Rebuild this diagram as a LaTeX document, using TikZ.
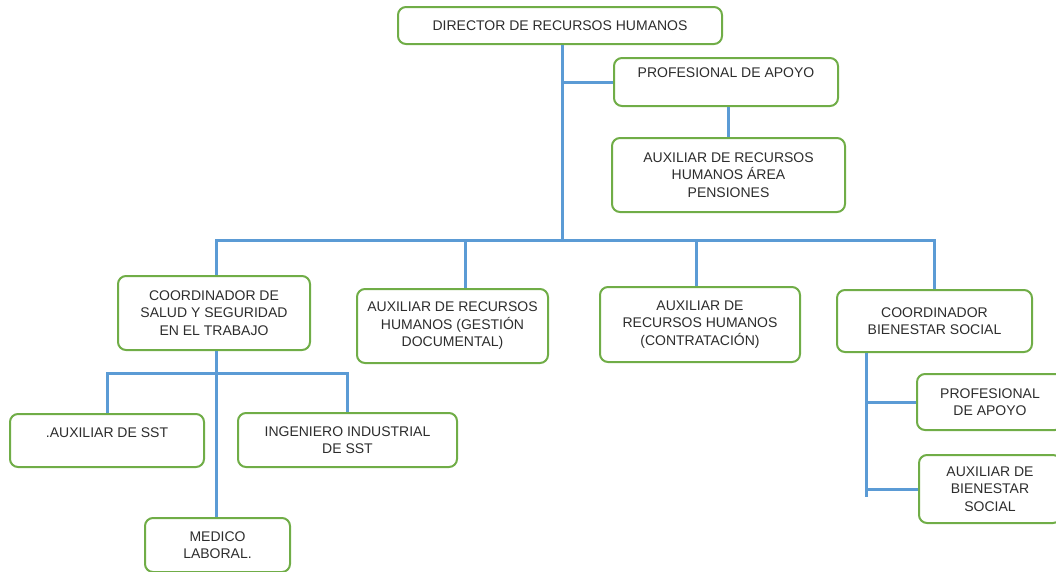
\documentclass[tikz,border=0pt]{standalone}
\usepackage{fontspec}
\setmainfont{Liberation Sans}
\usepackage{tikz}
\usetikzlibrary{positioning}

\definecolor{boxgreen}{RGB}{112,173,71}
\definecolor{linkblue}{RGB}{91,155,213}
\definecolor{txtgray}{RGB}{45,45,45}

\tikzset{
  orgbox/.style={draw=boxgreen, line width=2pt, rounded corners=8pt, fill=white,
    text=txtgray, align=center, inner sep=2pt, font=\fontsize{14}{17.5}\selectfont},
  link/.style={draw=linkblue, line width=3pt}
}

\begin{document}
\begin{tikzpicture}[x=1pt, y=-1pt]
    \useasboundingbox (0, 0) rectangle (1056, 571);
    \node[orgbox, minimum width=324, minimum height=37] (dir) at (560, 25.5) {DIRECTOR DE RECURSOS HUMANOS};
    \node[orgbox, minimum width=224, minimum height=48, text depth=19pt] (prof) at (726, 82) {PROFESIONAL DE APOYO};
    \node[orgbox, minimum width=233, minimum height=74] (pens) at (728.5, 175) {AUXILIAR DE RECURSOS\\HUMANOS ÁREA\\PENSIONES};
    \node[orgbox, minimum width=192, minimum height=74] (sst) at (214, 313) {COORDINADOR DE\\SALUD Y SEGURIDAD\\EN EL TRABAJO};
    \node[orgbox, minimum width=191, minimum height=74] (gest) at (452.5, 326) {AUXILIAR DE RECURSOS\\HUMANOS (GESTIÓN\\DOCUMENTAL)};
    \node[orgbox, minimum width=200, minimum height=75] (contr) at (700, 324.5) {AUXILIAR DE\\RECURSOS HUMANOS\\(CONTRATACIÓN)};
    \node[orgbox, minimum width=195, minimum height=62] (bien) at (934.5, 321) {COORDINADOR\\BIENESTAR SOCIAL};
    \node[orgbox, minimum width=194, minimum height=53, text depth=15pt] (auxsst) at (107, 440.5) {.AUXILIAR DE SST};
    \node[orgbox, minimum width=219, minimum height=54] (ing) at (347.5, 440) {INGENIERO INDUSTRIAL\\DE SST};
    \node[orgbox, minimum width=145, minimum height=54] (med) at (217.5, 545) {MEDICO\\LABORAL.};
    \node[orgbox, minimum width=146, minimum height=56] (profb) at (990, 402) {PROFESIONAL\\DE APOYO};
    \node[orgbox, minimum width=142, minimum height=68] (auxb) at (990, 489) {AUXILIAR DE\\BIENESTAR\\SOCIAL};

    \coordinate (hub) at (562, 240);
    \coordinate (sstbus) at (216, 373);
    \coordinate (bienend) at (866, 497);

    \draw[link] (dir.south -| hub) -- (hub);
    \draw[link] (prof.west) -- (prof.west -| hub);
    \draw[link] (pens.north) -- (pens.north |- prof.south);
    \draw[link] ([xshift=2pt]sst.north) |- (bien.north |- hub) -- (bien.north);
    \draw[link] ([xshift=12.5pt]gest.north) -- ([xshift=12.5pt]gest.north |- hub);
    \draw[link] ([xshift=-4pt]contr.north) -- ([xshift=-4pt]contr.north |- hub);
    \draw[link] ([xshift=2pt]sst.south) -- ([xshift=2pt]sst.south |- med.north);
    \draw[link] (auxsst.north) |- (ing.north |- sstbus) -- (ing.north);
    \draw[link] (bien.south -| bienend) -- (bienend);
    \draw[link] (profb.west) -- (profb.west -| bienend);
    \draw[link] (auxb.west) -- (auxb.west -| bienend);
\end{tikzpicture}
\end{document}
